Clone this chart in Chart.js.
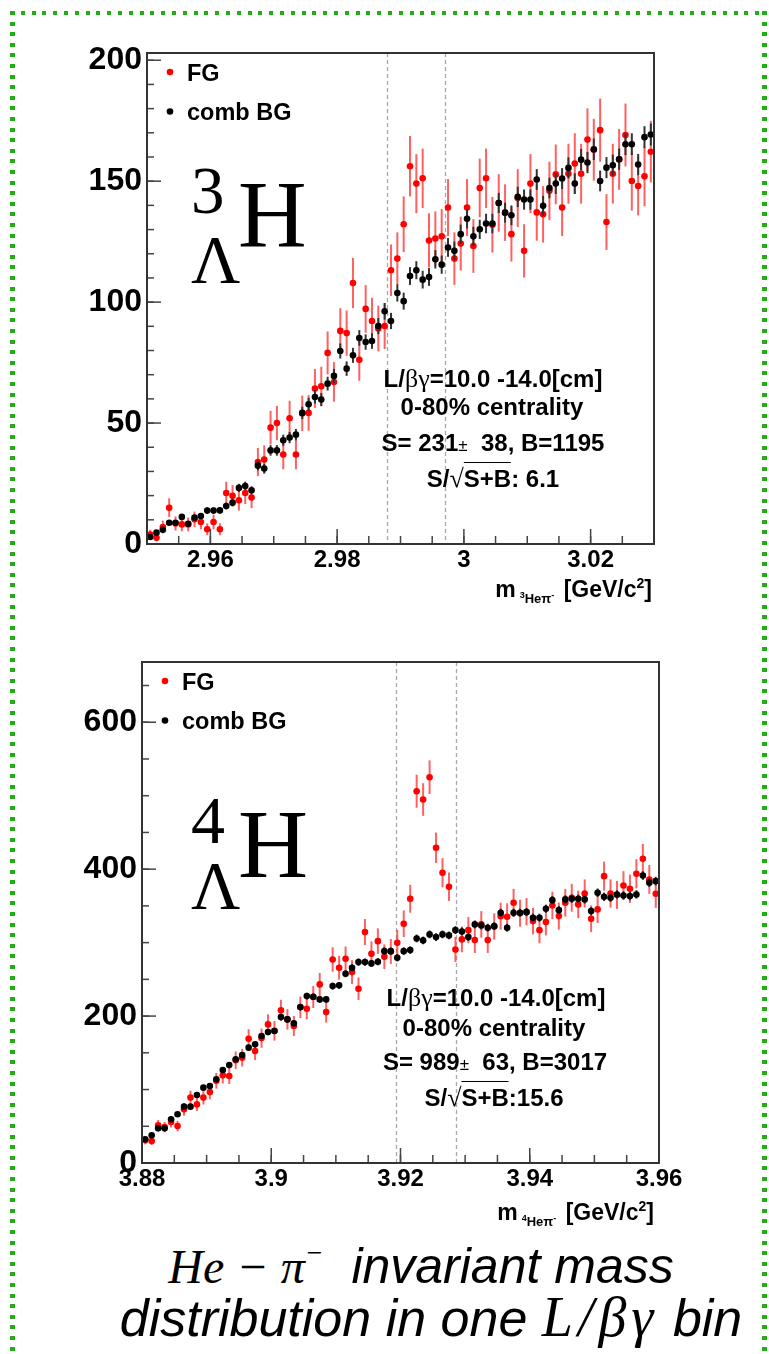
<!DOCTYPE html>
<html>
<head>
<meta charset="utf-8">
<script src="https://cdn.jsdelivr.net/npm/chart.js@4.4.1/dist/chart.umd.min.js"></script>
<style>
  html, body { margin: 0; padding: 0; background: #fff; }
  body { position: relative; width: 769px; height: 1354px; overflow: hidden; font-family: 'Liberation Sans', Arial, sans-serif; }
  canvas { position: absolute; left: 0; }
  #c1 { top: 0; }
  #c2 { top: 625px; }
  .txt { position: absolute; white-space: nowrap; color: #000; line-height: 1; }
  .txt span, .txt sup { line-height: 0; }
  .ann { font-weight: bold; font-size: 24px; }
  .sym { font-family: 'Liberation Serif', serif; font-weight: normal; font-size: 26px; }
  .pm { font-weight: normal; font-size: 17px; }
  .ov { border-top: 1.5px solid #000; padding-top: 2px; }
  .big { font-family: 'Liberation Serif', serif; }
  .axt { font-weight: bold; font-size: 23px; }
  .idx { font-size: 13px; position: relative; top: 6px; margin: 0 3px 0 4px; }
  .idx sup { font-size: 9px; vertical-align: 5px; }
  .sq { font-size: 14px; vertical-align: 9px; }
  .cap { font-style: italic; font-size: 50px; }
  .math { font-family: 'Liberation Serif', serif; font-size: 48px; }
  .border { position: absolute; }
  #bt { left: 10px; top: 11px; width: 757px; height: 4px; background: repeating-linear-gradient(to right, #1fae14 0 4px, transparent 4px 10.8px); }
  #bl { left: 10px; top: 11px; width: 5px; height: 1350px; background: repeating-linear-gradient(to bottom, #1fae14 0 4px, transparent 4px 10.6px); }
  #br { left: 762px; top: 11px; width: 5px; height: 1350px; background: repeating-linear-gradient(to bottom, #1fae14 0 4px, transparent 4px 10.6px); }
</style>
</head>
<body>
<div class="border" id="bt"></div>
<div class="border" id="bl"></div>
<div class="border" id="br"></div>

<canvas id="c1" width="769" height="625"></canvas>
<canvas id="c2" width="769" height="610"></canvas>

<!-- panel 1 labels -->
<div class="txt big" style="font-size:67px" data-x="191" data-base="214" data-align="l">3</div>
<div class="txt big" style="font-size:68px" data-x="191" data-base="282" data-align="l">Λ</div>
<div class="txt big" style="font-size:95px" data-x="238" data-base="248" data-align="l">H</div>
<div class="txt ann" data-x="493" data-base="387" data-align="c">L/<span class="sym">βγ</span>=10.0 -14.0[cm]</div>
<div class="txt ann" data-x="492" data-base="415" data-align="c">0-80% centrality</div>
<div class="txt ann" data-x="493" data-base="451" data-align="c">S= 231<span class="pm">±</span>&nbsp; 38, B=1195</div>
<div class="txt ann" data-x="493" data-base="487" data-align="c">S/<span class="sym">√</span><span class="ov">S+B</span>: 6.1</div>
<div class="txt axt" data-x="652" data-base="597" data-align="r">m<span class="idx"><sup>3</sup>Heπ<sup>-</sup></span> [GeV/c<span class="sq">2</span>]</div>

<!-- panel 2 labels -->
<div class="txt big" style="font-size:68px" data-x="191" data-base="843" data-align="l">4</div>
<div class="txt big" style="font-size:68px" data-x="191" data-base="908" data-align="l">Λ</div>
<div class="txt big" style="font-size:97px" data-x="238" data-base="878" data-align="l">H</div>
<div class="txt ann" data-x="496" data-base="1006" data-align="c">L/<span class="sym">βγ</span>=10.0 -14.0[cm]</div>
<div class="txt ann" data-x="494" data-base="1036" data-align="c">0-80% centrality</div>
<div class="txt ann" data-x="495" data-base="1070" data-align="c">S= 989<span class="pm">±</span>&nbsp; 63, B=3017</div>
<div class="txt ann" data-x="494" data-base="1106" data-align="c">S/<span class="sym">√</span><span class="ov">S+B</span>:15.6</div>
<div class="txt axt" data-x="654" data-base="1220" data-align="r">m<span class="idx"><sup>4</sup>Heπ<sup>-</sup></span> [GeV/c<span class="sq">2</span>]</div>

<!-- caption -->
<div class="txt cap" data-x="421" data-base="1283" data-align="c"><span class="math">He − π<sup style="font-size:28px;vertical-align:21px">−</sup></span>&nbsp; invariant mass</div>
<div class="txt cap" style="font-size:52px" data-x="431" data-base="1336" data-align="c">distribution in one <span class="math" style="font-size:56px;letter-spacing:5px">L/βγ</span> bin</div>

<script>
// histogram binning: 80 bins of 1 MeV/c^2
const nBins = 80;
const binWidth = 0.001;

// 3ΛH panel
const binLo3 = 2.95;
const xRange3 = [2.95, 3.03];
const yRange3 = [0, 203];
const fg3 = [3.9, 2.6, 7.0, 15.0, 8.5, 8.1, 8.1, 10.2, 9.1, 6.1,
  9.1, 6.1, 21.1, 19.9, 18.1, 21.1, 19.2, 33.9, 34.9, 48.1,
  50.0, 37.0, 52.0, 37.0, 54.0, 54.2, 64.3, 65.2, 79.0, 67.0,
  88.1, 87.2, 107.9, 76.2, 97.2, 92.2, 89.1, 90.1, 113.2, 118.0,
  132.2, 156.2, 149.0, 151.2, 125.5, 126.3, 127.2, 139.1, 118.0, 124.2,
  139.1, 123.2, 147.2, 151.2, 132.0, 141.0, 137.0, 128.1, 143.0, 121.2,
  149.0, 137.1, 136.3, 146.0, 152.8, 139.1, 153.1, 157.3, 153.1, 167.2,
  163.0, 171.1, 133.1, 153.1, 159.0, 169.1, 150.1, 148.0, 152.0, 162.2];
const bg3 = [2.9, 4.7, 5.9, 8.8, 8.8, 11.2, 8.4, 10.9, 11.6, 13.8,
  13.8, 13.9, 15.7, 17.1, 23.2, 24.0, 22.2, 32.4, 31.2, 38.7,
  38.7, 42.9, 44.0, 45.2, 54.2, 57.8, 60.8, 59.7, 66.3, 69.5,
  79.8, 72.5, 78.0, 85.2, 83.5, 83.9, 90.1, 96.2, 92.2, 103.8,
  100.4, 110.8, 113.2, 109.3, 110.4, 117.7, 115.5, 122.6, 121.2, 128.1,
  134.5, 127.2, 130.1, 132.5, 132.5, 141.0, 137.0, 135.9, 143.5, 142.4,
  142.4, 150.7, 139.8, 147.2, 149.0, 151.1, 155.5, 149.0, 158.9, 157.7,
  163.2, 150.1, 155.6, 156.6, 159.1, 165.3, 165.3, 156.9, 168.2, 169.3];
const window3 = [2.9878, 2.9971];
const xTicks3 = [2.96, 2.98, 3.0, 3.02];
const xLabels3 = ['2.96', '2.98', '3', '3.02'];
const yTicks3 = [0, 50, 100, 150, 200];
const yLabels3 = ['0', '50', '100', '150', '200'];

// 4ΛH panel
const binLo4 = 3.88;
const xRange4 = [3.88, 3.96];
const yRange4 = [0, 682];
const fg4 = [31, 30, 51.3, 49, 55.8, 50.3, 73, 89.0, 79.8, 89.0,
  96.6, 112, 119.3, 118.4, 140, 143.4, 169.2, 152.4, 170, 188.7,
  180, 207.8, 195.5, 186.4, 212, 210.0, 226, 243.1, 205.4, 277.1,
  265.8, 278.1, 259.9, 237.2, 314.3, 284.9, 302.0, 280.8, 288, 299.9,
  325.7, 359.7, 506.1, 494.8, 525.2, 429.1, 395.1, 376.1, 290.7, 304.4,
  317.0, 303.4, 324.8, 303.4, 322, 336, 335.2, 354.3, 340, 342,
  329.3, 317.0, 327.9, 350.6, 336.1, 354.3, 361.1, 352.0, 366.9, 332.5,
  345.2, 390.5, 366.9, 365, 377.8, 373.3, 393.7, 414.1, 386.0, 366.5];
const bg4 = [32.2, 37.7, 47.2, 47.2, 59.5, 66.3, 76.7, 76.7, 92.5, 102.6,
  104.8, 113.9, 126.5, 133.3, 141.1, 146.9, 157.0, 161.5, 172.8, 178.2,
  179.6, 198.6, 195.5, 190.1, 212.2, 227.2, 226.4, 222.7, 222.7, 240.8,
  241.8, 257.7, 265.8, 273.5, 273.5, 271.7, 274.0, 288.4, 288.4, 279.4,
  288.4, 289.8, 305.7, 303.0, 311.2, 307.5, 311.2, 309.8, 317.0, 315.2,
  307.5, 324.8, 323.4, 320.3, 322.4, 340.7, 320.3, 340.7, 340.7, 341.5,
  333.9, 333.9, 346.1, 357.8, 344.2, 358.8, 359.7, 359.7, 358.8, 342.9,
  367.9, 362.4, 361.1, 365.6, 364.2, 363.3, 365.6, 391.4, 381.5, 383.7];
const window4 = [3.9193, 3.9286];
const xTicks4 = [3.88, 3.9, 3.92, 3.94, 3.96];
const xLabels4 = ['3.88', '3.9', '3.92', '3.94', '3.96'];
const yTicks4 = [0, 200, 400, 600];
const yLabels4 = ['0', '200', '400', '600'];

// FG has plain Poisson errors, the mixed-event BG is scaled down
const bgErrScale3 = 0.35;
const bgErrScale4 = 0.3;

function toPoints(lo, vals) {
  return vals.map((v, i) => ({ x: lo + (i + 0.5) * binWidth, y: v }));
}

function range(from, to, step) {
  const out = [];
  for (let k = 0; from + k * step <= to + 1e-9; k++) out.push(+(from + k * step).toFixed(6));
  return out;
}

// error bars drawn right before their own dataset
const errorBars = {
  id: 'errorBars',
  beforeDatasetDraw(chart, args) {
    const ds = chart.data.datasets[args.index];
    if (!ds.errors) return;
    const { ctx, chartArea: a, scales: { x, y } } = chart;
    ctx.save();
    ctx.beginPath();
    ctx.rect(a.left, a.top, a.right - a.left, a.bottom - a.top);
    ctx.clip();
    ctx.strokeStyle = ds.errorColor;
    ctx.lineWidth = 2;
    ds.data.forEach((p, i) => {
      const px = x.getPixelForValue(p.x);
      ctx.beginPath();
      ctx.moveTo(px, y.getPixelForValue(p.y - ds.errors[i]));
      ctx.lineTo(px, y.getPixelForValue(p.y + ds.errors[i]));
      ctx.stroke();
    });
    ctx.restore();
  }
};

// dashed lines marking the signal window
const windowLines = {
  id: 'windowLines',
  beforeDatasetsDraw(chart, args, opts) {
    const { ctx, chartArea: a, scales: { x } } = chart;
    ctx.save();
    ctx.strokeStyle = '#a8a8a8';
    ctx.lineWidth = 1.3;
    ctx.setLineDash([4, 3]);
    opts.at.forEach(v => {
      const px = Math.round(x.getPixelForValue(v)) + 0.5;
      ctx.beginPath();
      ctx.moveTo(px, a.top);
      ctx.lineTo(px, a.bottom);
      ctx.stroke();
    });
    ctx.restore();
  }
};

// ROOT style frame with inward tick marks
const frameTicks = {
  id: 'frameTicks',
  afterDatasetsDraw(chart, args, opts) {
    const { ctx, chartArea: a, scales: { x, y } } = chart;
    ctx.save();
    ctx.strokeStyle = '#444';
    ctx.lineWidth = 1.5;
    const line = (x0, y0, x1, y1) => { ctx.beginPath(); ctx.moveTo(x0, y0); ctx.lineTo(x1, y1); ctx.stroke(); };
    opts.xMinor.forEach(v => { const px = x.getPixelForValue(v); line(px, a.bottom, px, a.bottom - 8); });
    opts.xMajor.forEach(v => { const px = x.getPixelForValue(v); line(px, a.bottom, px, a.bottom - 15); });
    opts.yMinor.forEach(v => { const py = y.getPixelForValue(v); line(a.left, py, a.left + 7, py); });
    opts.yMajor.forEach(v => { const py = y.getPixelForValue(v); line(a.left, py, a.left + 14, py); });
    ctx.strokeStyle = '#333';
    ctx.lineWidth = 2;
    ctx.strokeRect(a.left, a.top, a.right - a.left, a.bottom - a.top);
    ctx.restore();
  }
};

// small legend in the top-left corner of the frame
const cornerLegend = {
  id: 'cornerLegend',
  afterDraw(chart) {
    const { ctx, chartArea: a } = chart;
    ctx.save();
    ctx.font = 'bold 23.5px "Liberation Sans", Arial';
    ctx.textBaseline = 'alphabetic';
    chart.data.datasets.forEach((ds, i) => {
      const rowY = a.top + 19 + i * 39.5;
      ctx.fillStyle = ds.pointBackgroundColor;
      ctx.beginPath();
      ctx.arc(a.left + 23, rowY, 3.3, 0, Math.PI * 2);
      ctx.fill();
      ctx.fillStyle = '#000';
      ctx.fillText(ds.label, a.left + 40, rowY + 8.7);
    });
    ctx.restore();
  }
};

function makeChart(id, c) {
  const tickFont = size => ({ family: "'Liberation Sans', Arial", size: size, weight: 'bold' });
  return new Chart(document.getElementById(id), {
    type: 'scatter',
    data: {
      datasets: [
        {
          label: 'FG',
          data: toPoints(c.binLo, c.fg),
          errors: c.fg.map(Math.sqrt),
          errorColor: 'rgba(255,30,30,0.7)',
          pointBackgroundColor: '#ff0000',
          pointRadius: 3.3,
          pointBorderWidth: 0,
          order: 1
        },
        {
          label: 'comb BG',
          data: toPoints(c.binLo, c.bg),
          errors: c.bg.map(v => Math.sqrt(v) * c.bgErrScale),
          errorColor: '#333',
          pointBackgroundColor: '#000',
          pointRadius: 3.3,
          pointBorderWidth: 0,
          order: 0
        }
      ]
    },
    options: {
      responsive: false,
      animation: false,
      devicePixelRatio: 1,
      events: [],
      layout: { padding: { top: c.padTop, right: c.padRight, left: 0, bottom: 0 } },
      plugins: {
        legend: { display: false },
        tooltip: { enabled: false },
        windowLines: { at: c.window },
        frameTicks: {
          xMajor: c.xTicks,
          xMinor: range(c.xRange[0], c.xRange[1], 0.005),
          yMajor: c.yTicks,
          yMinor: range(0, c.yRange[1], c.yMinorStep)
        }
      },
      scales: {
        x: {
          type: 'linear',
          min: c.xRange[0],
          max: c.xRange[1],
          grid: { display: false, drawTicks: false },
          border: { display: false },
          afterBuildTicks: s => { s.ticks = c.xTicks.map(v => ({ value: v })); },
          afterFit: s => { s.height = c.xAxisHeight; },
          ticks: {
            autoSkip: false,
            maxRotation: 0,
            padding: 2,
            color: '#000',
            font: tickFont(24),
            callback: (v, i) => c.xLabels[i]
          }
        },
        y: {
          type: 'linear',
          min: c.yRange[0],
          max: c.yRange[1],
          grid: { display: false, drawTicks: false },
          border: { display: false },
          afterBuildTicks: s => { s.ticks = c.yTicks.map(v => ({ value: v })); },
          afterFit: s => { s.width = c.yAxisWidth; },
          ticks: {
            padding: 5,
            color: '#000',
            font: tickFont(32),
            callback: (v, i) => c.yLabels[i]
          }
        }
      }
    },
    plugins: [errorBars, windowLines, frameTicks, cornerLegend]
  });
}

makeChart('c1', {
  binLo: binLo3, fg: fg3, bg: bg3, bgErrScale: bgErrScale3,
  xRange: xRange3, yRange: yRange3, window: window3,
  xTicks: xTicks3, xLabels: xLabels3, yTicks: yTicks3, yLabels: yLabels3, yMinorStep: 10,
  padTop: 53, padRight: 115, yAxisWidth: 147, xAxisHeight: 81
});

makeChart('c2', {
  binLo: binLo4, fg: fg4, bg: bg4, bgErrScale: bgErrScale4,
  xRange: xRange4, yRange: yRange4, window: window4,
  xTicks: xTicks4, xLabels: xLabels4, yTicks: yTicks4, yLabels: yLabels4, yMinorStep: 50,
  padTop: 37, padRight: 110, yAxisWidth: 142, xAxisHeight: 72
});

// place the html texts by their baseline
document.querySelectorAll('.txt').forEach(el => {
  const size = parseFloat(getComputedStyle(el).fontSize);
  el.style.left = el.dataset.x + 'px';
  el.style.top = (parseFloat(el.dataset.base) - size * 0.845) + 'px';
  if (el.dataset.align === 'c') el.style.transform = 'translateX(-50%)';
  if (el.dataset.align === 'r') el.style.transform = 'translateX(-100%)';
});
</script>
</body>
</html>
